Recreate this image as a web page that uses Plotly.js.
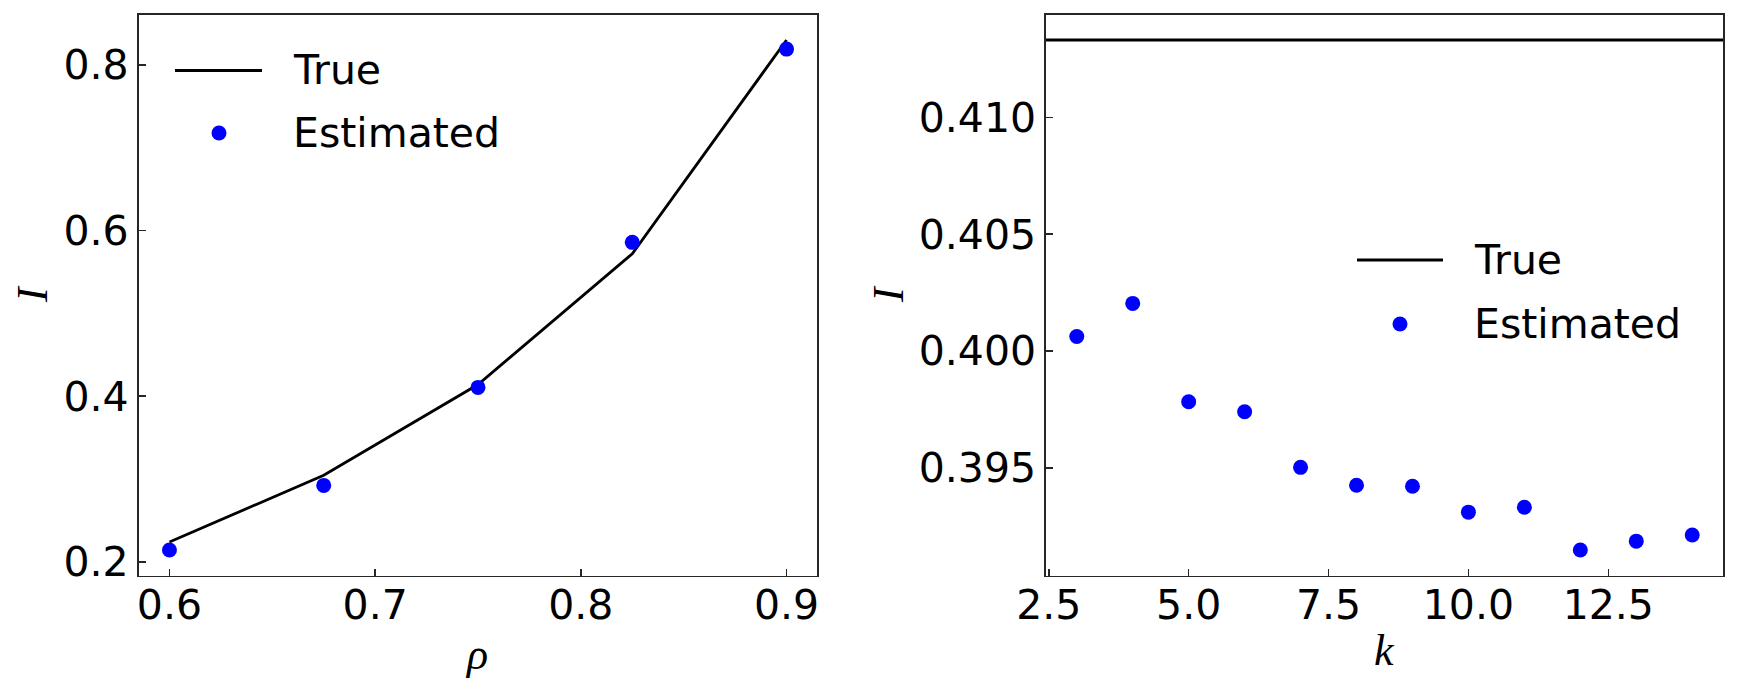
<!DOCTYPE html>
<html>
<head>
<meta charset="utf-8">
<script src="https://cdn.plot.ly/plotly-3.0.1.min.js"></script>
<style>html,body{margin:0;padding:0;background:#fff;}#chart{width:1739px;height:690px;}</style>
</head>
<body>
<div id="chart"></div>
<script>
// ---- data ----
const rho = [0.6, 0.675, 0.75, 0.825, 0.9];
const trueLeft = [0.224, 0.3045, 0.414, 0.572, 0.830];
const estLeft = [0.2143, 0.2923, 0.4106, 0.5857, 0.819];

const kVals = [3, 4, 5, 6, 7, 8, 9, 10, 11, 12, 13, 14];
const estRight = [0.40062, 0.40204, 0.39783, 0.39740, 0.39502, 0.39425, 0.39421, 0.39310, 0.39331, 0.39148, 0.39186, 0.39212];
const trueRight = 0.41332;

const legendLabels = ["True", "Estimated"];
const xTitles = ["ρ", "k"];
const yTitle = "I";

// ---- helpers ----
const W = 1739, H = 690;
function px(x){ return x / W; }
function py(y){ return 1 - y / H; }
function padRange(vals){
  const mn = Math.min(...vals), mx = Math.max(...vals);
  const p = 0.05 * (mx - mn);
  return [mn - p, mx + p];
}

const tickFont = {family: "DejaVu Sans", size: 41, color: "#000"};
const titleFont = {family: "Liberation Serif", size: 44, color: "#000", style: "italic"};
const axisCommon = {
  showline: true, mirror: true, linecolor: "#262626", linewidth: 1.7,
  ticks: "inside", ticklen: 7, tickwidth: 1.6, tickcolor: "#262626",
  showgrid: false, zeroline: false, tickfont: tickFont, automargin: false
};

const traces = [
  {x: rho, y: trueLeft, mode: "lines", line: {color: "#000", width: 2.8}, xaxis: "x", yaxis: "y", showlegend: false, name: legendLabels[0]},
  {x: rho, y: estLeft, mode: "markers", marker: {color: "#0000ff", size: 15}, xaxis: "x", yaxis: "y", showlegend: false, name: legendLabels[1]},
  {x: kVals, y: estRight, mode: "markers", marker: {color: "#0000ff", size: 15}, xaxis: "x2", yaxis: "y2", showlegend: false, name: legendLabels[1]}
];

const layout = {
  width: W, height: H,
  margin: {l: 0, r: 0, t: 0, b: 0},
  paper_bgcolor: "#fff", plot_bgcolor: "#fff",
  xaxis: Object.assign({}, axisCommon, {domain: [px(138.6), px(817.4)], range: padRange(rho), tick0: 0.6, dtick: 0.1, tickformat: ".1f", anchor: "y", ticklabelstandoff: -7}),
  yaxis: Object.assign({}, axisCommon, {domain: [py(575.5), py(14.5)], range: padRange(trueLeft.concat(estLeft)), tick0: 0.2, dtick: 0.2, tickformat: ".1f", anchor: "x"}),
  xaxis2: Object.assign({}, axisCommon, {domain: [px(1046), px(1723)], range: padRange(kVals), tick0: 2.5, dtick: 2.5, tickformat: ".1f", anchor: "y2", ticklabelstandoff: -7}),
  yaxis2: Object.assign({}, axisCommon, {domain: [py(575.5), py(14.5)], range: padRange(estRight.concat([trueRight])), tick0: 0.395, dtick: 0.005, tickformat: ".3f", anchor: "x2"}),
  shapes: [
    {type: "line", xref: "x2 domain", yref: "y2", x0: 0, x1: 1, y0: trueRight, y1: trueRight, line: {color: "#000", width: 2.8}},
    // legend samples (left)
    {type: "line", xref: "paper", yref: "paper", x0: px(175), x1: px(262), y0: py(70.5), y1: py(70.5), line: {color: "#000", width: 2.8}},
    {type: "circle", xref: "paper", yref: "paper", xsizemode: "pixel", ysizemode: "pixel", xanchor: px(219), yanchor: py(133), x0: -7.5, x1: 7.5, y0: -7.5, y1: 7.5, fillcolor: "#0000ff", line: {width: 0}},
    // legend samples (right)
    {type: "line", xref: "paper", yref: "paper", x0: px(1357), x1: px(1443), y0: py(260), y1: py(260), line: {color: "#000", width: 2.8}},
    {type: "circle", xref: "paper", yref: "paper", xsizemode: "pixel", ysizemode: "pixel", xanchor: px(1400), yanchor: py(324), x0: -7.5, x1: 7.5, y0: -7.5, y1: 7.5, fillcolor: "#0000ff", line: {width: 0}}
  ],
  annotations: [
    {text: legendLabels[0], xref: "paper", yref: "paper", x: px(291), y: py(70), xanchor: "left", yanchor: "middle", showarrow: false, font: tickFont},
    {text: legendLabels[1], xref: "paper", yref: "paper", x: px(291), y: py(133), xanchor: "left", yanchor: "middle", showarrow: false, font: tickFont},
    {text: legendLabels[0], xref: "paper", yref: "paper", x: px(1472), y: py(260), xanchor: "left", yanchor: "middle", showarrow: false, font: tickFont},
    {text: legendLabels[1], xref: "paper", yref: "paper", x: px(1472), y: py(324), xanchor: "left", yanchor: "middle", showarrow: false, font: tickFont},
    {text: xTitles[0], xref: "paper", yref: "paper", x: px(476), y: py(654), xanchor: "center", yanchor: "middle", showarrow: false, font: titleFont},
    {text: xTitles[1], xref: "paper", yref: "paper", x: px(1384.5), y: py(650), xanchor: "center", yanchor: "middle", showarrow: false, font: titleFont},
    {text: yTitle, xref: "paper", yref: "paper", x: px(32), y: py(294), xanchor: "center", yanchor: "middle", textangle: -90, showarrow: false, font: titleFont},
    {text: yTitle, xref: "paper", yref: "paper", x: px(888), y: py(294), xanchor: "center", yanchor: "middle", textangle: -90, showarrow: false, font: titleFont}
  ]
};

Plotly.newPlot("chart", traces, layout, {staticPlot: true, displayModeBar: false});
</script>
</body>
</html>
